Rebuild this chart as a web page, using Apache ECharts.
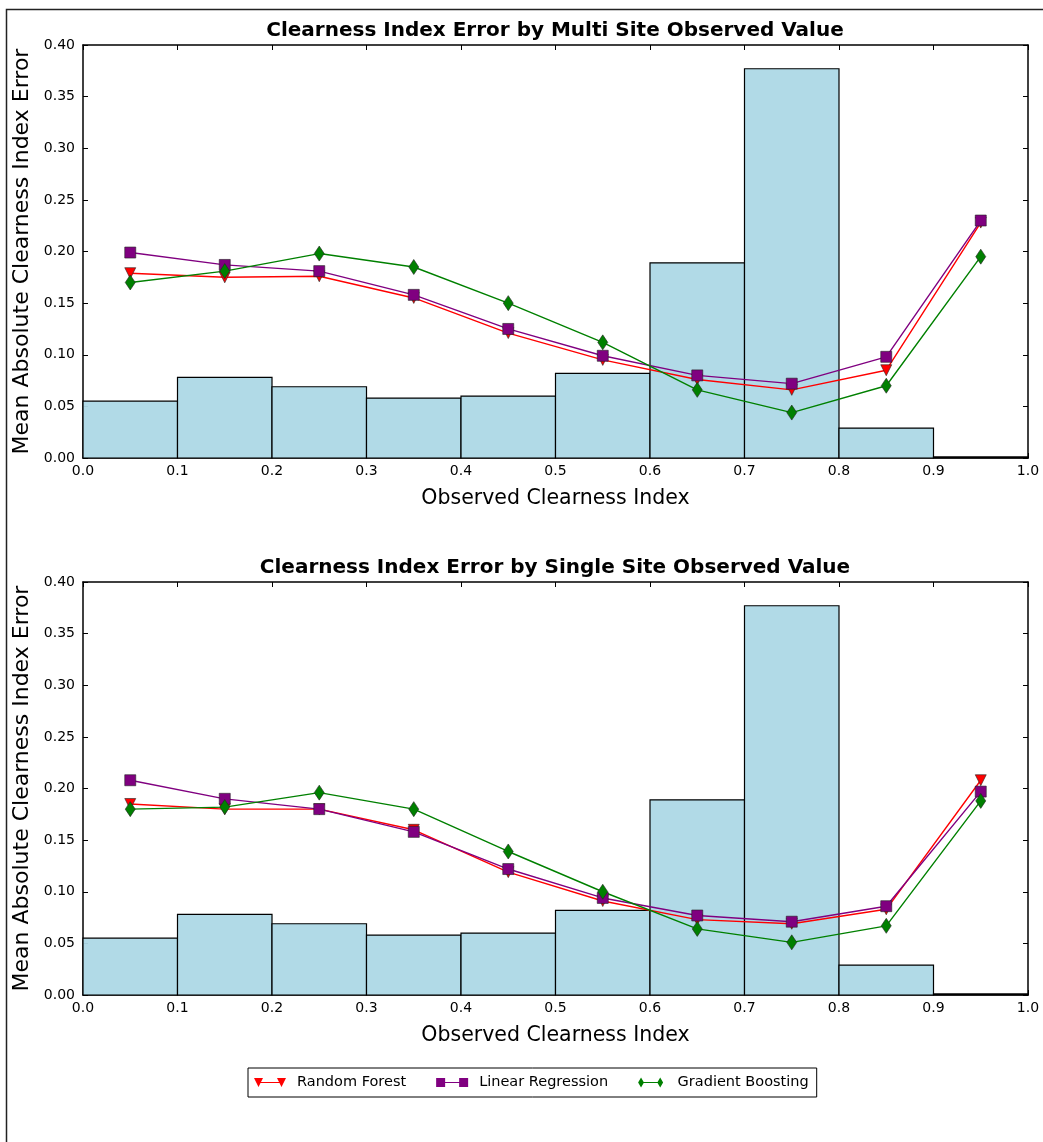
<!DOCTYPE html>
<html>
<head>
<meta charset="utf-8">
<script src="https://cdn.jsdelivr.net/npm/echarts@6/dist/echarts.min.js"></script>
<style>html,body{margin:0;padding:0;background:#fff;}#c{width:1043px;height:1142px;}</style>
</head>
<body>
<div id="c"></div>
<script>
// ---- data ----
var titles = ['Clearness Index Error by Multi Site Observed Value', 'Clearness Index Error by Single Site Observed Value'];
var binEdges = [0.0, 0.1, 0.2, 0.3, 0.4, 0.5, 0.6, 0.7, 0.8, 0.9, 1.0];
var histMulti  = [0.055, 0.078, 0.069, 0.058, 0.060, 0.082, 0.189, 0.377, 0.029, 0.001];
var histSingle = [0.055, 0.078, 0.069, 0.058, 0.060, 0.082, 0.189, 0.377, 0.029, 0.001];
var binCenters = [0.05, 0.15, 0.25, 0.35, 0.45, 0.55, 0.65, 0.75, 0.85, 0.95];
var rfMulti  = [0.179, 0.175, 0.176, 0.155, 0.121, 0.095, 0.076, 0.066, 0.085, 0.228];
var lrMulti  = [0.199, 0.187, 0.181, 0.158, 0.125, 0.099, 0.080, 0.072, 0.098, 0.230];
var gbMulti  = [0.170, 0.181, 0.198, 0.185, 0.150, 0.112, 0.066, 0.044, 0.070, 0.195];
var rfSingle = [0.185, 0.180, 0.180, 0.160, 0.119, 0.091, 0.073, 0.069, 0.083, 0.208];
var lrSingle = [0.208, 0.190, 0.180, 0.158, 0.122, 0.094, 0.077, 0.071, 0.086, 0.197];
var gbSingle = [0.180, 0.182, 0.196, 0.180, 0.139, 0.100, 0.064, 0.051, 0.067, 0.188];
var xTicks = ['0.0','0.1','0.2','0.3','0.4','0.5','0.6','0.7','0.8','0.9','1.0'];
var yTicks = ['0.00','0.05','0.10','0.15','0.20','0.25','0.30','0.35','0.40'];
var seriesNames = ['Random Forest', 'Linear Regression', 'Gradient Boosting'];

var FONT = 'DejaVu Sans';
var grids = [
  {left: 83, right: 15, top: 45, height: 413},
  {left: 83, right: 15, top: 582, height: 413}
];

function histData(h) {
  return h.map(function (v, i) { return [binEdges[i], binEdges[i + 1], v]; });
}
function pts(arr) {
  return arr.map(function (v, i) { return [binCenters[i], v]; });
}

var axisLineStyle = {show: true, onZero: false, lineStyle: {color: '#000', width: 1.5}};
var tickStyle = {show: true, inside: true, length: 5, lineStyle: {color: '#000', width: 1}};

var xAxes = [], yAxes = [], series = [];
grids.forEach(function (g, gi) {
  xAxes.push({
    type: 'value', gridIndex: gi, min: 0, max: 1, interval: 0.1, position: 'bottom',
    name: 'Observed Clearness Index', nameLocation: 'middle', nameGap: 30,
    nameTextStyle: {fontFamily: FONT, fontSize: 20.5, color: '#000'},
    axisLine: axisLineStyle, axisTick: tickStyle,
    axisLabel: {fontFamily: FONT, fontSize: 14, color: '#000', margin: 6,
      formatter: function (v) { return xTicks[Math.round(v * 10)]; }},
    splitLine: {show: false}
  });
  xAxes.push({
    type: 'value', gridIndex: gi, min: 0, max: 1, interval: 0.1, position: 'top',
    axisLine: axisLineStyle, axisTick: tickStyle,
    axisLabel: {show: false}, splitLine: {show: false}
  });
  yAxes.push({
    type: 'value', gridIndex: gi, min: 0, max: 0.4, interval: 0.05, position: 'left',
    name: 'Mean Absolute Clearness Index Error', nameLocation: 'middle', nameGap: 40,
    nameTextStyle: {fontFamily: FONT, fontSize: 22, color: '#000'},
    axisLine: axisLineStyle, axisTick: tickStyle,
    axisLabel: {fontFamily: FONT, fontSize: 14, color: '#000', margin: 8,
      formatter: function (v) { return yTicks[Math.round(v * 20)]; }},
    splitLine: {show: false}
  });
  yAxes.push({
    type: 'value', gridIndex: gi, min: 0, max: 0.4, interval: 0.05, position: 'right',
    axisLine: axisLineStyle, axisTick: tickStyle,
    axisLabel: {show: false}, splitLine: {show: false}
  });
});

function histSeries(h, gi) {
  return {
    type: 'custom', xAxisIndex: gi * 2, yAxisIndex: gi * 2, z: 1,
    data: histData(h), encode: {x: [0, 1], y: 2},
    renderItem: function (params, api) {
      var p0 = api.coord([api.value(0), api.value(2)]);
      var p1 = api.coord([api.value(1), 0]);
      return {type: 'rect', shape: {x: p0[0], y: p0[1], width: p1[0] - p0[0], height: p1[1] - p0[1]},
        style: {fill: 'rgba(173,216,230,0.95)', stroke: '#000', lineWidth: 1.2}};
    }
  };
}
function lineSeries(name, arr, gi, color, symbol, size, rot) {
  return {
    type: 'line', name: name, xAxisIndex: gi * 2, yAxisIndex: gi * 2, z: 3,
    data: pts(arr), symbol: symbol, symbolSize: size, symbolRotate: rot || 0,
    showAllSymbol: true, animation: false,
    lineStyle: {color: color, width: 1.4},
    itemStyle: {color: color, borderColor: '#222', borderWidth: 0.6}
  };
}

series.push(histSeries(histMulti, 0));
series.push(histSeries(histSingle, 1));
series.push(lineSeries(seriesNames[0], rfMulti, 0, '#ff0000', 'triangle', 11, 180));
series.push(lineSeries(seriesNames[1], lrMulti, 0, '#800080', 'rect', 11));
series.push(lineSeries(seriesNames[2], gbMulti, 0, '#008000', 'diamond', [10, 15]));
series.push(lineSeries(seriesNames[0], rfSingle, 1, '#ff0000', 'triangle', 11, 180));
series.push(lineSeries(seriesNames[1], lrSingle, 1, '#800080', 'rect', 11));
series.push(lineSeries(seriesNames[2], gbSingle, 1, '#008000', 'diamond', [10, 15]));

var chart = echarts.init(document.getElementById('c'), null, {renderer: 'canvas'});
chart.setOption({
  animation: false,
  backgroundColor: '#fff',
  title: [
    {text: titles[0], left: 555, textAlign: 'center', top: 21, padding: 0,
      textStyle: {fontFamily: FONT, fontWeight: 'bold', fontSize: 20, color: '#000'}},
    {text: titles[1], left: 555, textAlign: 'center', top: 558, padding: 0,
      textStyle: {fontFamily: FONT, fontWeight: 'bold', fontSize: 20, color: '#000'}}
  ],
  legend: {
    data: [
      {name: seriesNames[0], icon: 'path://M0,0h9l-4.5,9z M23,0h9l-4.5,9z M4.5,3.9h23v1.2h-23z'},
      {name: seriesNames[1], icon: 'path://M0,0h9v9h-9z M23,0h9v9h-9z M4.5,3.9h23v1.2h-23z'},
      {name: seriesNames[2], icon: 'path://M4.5,-1.5l3.5,6l-3.5,6l-3.5,-6z M27.5,-1.5l3.5,6l-3.5,6l-3.5,-6z M4.5,3.9h23v1.2h-23z'}
    ],
    left: 248, top: 1068, itemWidth: 32, itemHeight: 10, itemGap: 30,
    borderColor: '#000', borderWidth: 1, borderRadius: 0, padding: [7, 8, 7, 6],
    itemStyle: {borderWidth: 0},
    textStyle: {fontFamily: FONT, fontSize: 14.5, color: '#000', padding: [0, 0, 0, 6]}
  },
  grid: grids,
  xAxis: xAxes,
  yAxis: yAxes,
  graphic: [
    {type: 'polyline', shape: {points: [[1043, 9.5], [6.5, 9.5], [6.5, 1142]]},
      style: {stroke: '#222', lineWidth: 1.5, fill: null}, silent: true}
  ],
  series: series
});
</script>
</body>
</html>
